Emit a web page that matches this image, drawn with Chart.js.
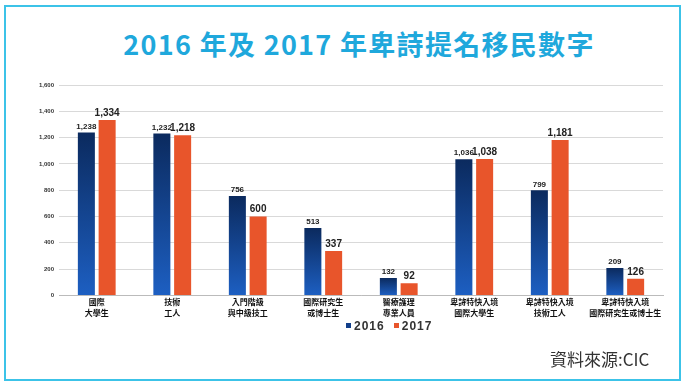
<!DOCTYPE html>
<html>
<head>
<meta charset="utf-8">
<script src="https://cdn.jsdelivr.net/npm/chart.js@4"></script>
<style>
  html, body { margin: 0; padding: 0; background: #fff; }
  #wrap { position: relative; width: 687px; height: 388px; overflow: hidden; }
  #frame { position: absolute; left: 4px; top: 5px; width: 673px; height: 372px; border: 2px solid #3cc3e8; }
  #title { position: absolute; left: 0; width: 718px; top: 24px; text-align: center;
    font-family: "Noto Sans CJK TC", "Liberation Sans", sans-serif; font-weight: bold;
    font-size: 27px; color: #1fa8dc; letter-spacing: 1.3px; }
  #legend { position: absolute; left: 346px; top: 319px; font-family: "Liberation Sans", sans-serif;
    font-weight: bold; font-size: 12px; color: #333; letter-spacing: 1px; white-space: nowrap; }
  #legend span.box { display: inline-block; width: 5px; height: 5px; margin-right: 3px; vertical-align: 2px; }
  #legend span.item { margin-right: 9px; }
  #source { position: absolute; left: 550px; top: 346px; font-family: "Noto Sans CJK TC", sans-serif;
    font-size: 17px; color: #333; }
  canvas { position: absolute; left: 0; top: 0; }
</style>
</head>
<body>
<div id="wrap">
  <div id="frame"></div>
  <div id="title">2016 年及 2017 年卑詩提名移民數字</div>
  <canvas id="chart" width="687" height="388"></canvas>
  <div id="legend"></div>
  <div id="source">資料來源:CIC</div>
</div>
<script>
// Categories (two-line labels)
const categories = [
    ['國際', '大學生'],
    ['技術', '工人'],
    ['入門階級', '與中級技工'],
    ['國際研究生', '或博士生'],
    ['醫療護理', '專業人員'],
    ['卑詩特快入境', '國際大學生'],
    ['卑詩特快入境', '技術工人'],
    ['卑詩特快入境', '國際研究生或博士生']
];
const seriesNames = ['2016', '2017'];
const values2016 = [1238, 1232, 756, 513, 132, 1036, 799, 209];
const values2017 = [1334, 1218, 600, 337, 92, 1038, 1181, 126];
const yTicks = [0, 200, 400, 600, 800, 1000, 1200, 1400, 1600];
const seriesColors = ['#123f8a', '#e8552b'];

// Blue bars fade from navy at the top to brighter blue at the bottom
function blueGradient(context) {
    const chart = context.chart;
    const area = chart.chartArea;
    if (!area || context.raw === undefined) return '#174a9c';
    const top = chart.scales.y.getPixelForValue(context.raw);
    const g = chart.ctx.createLinearGradient(0, top, 0, area.bottom);
    g.addColorStop(0, '#0b2a5e');
    g.addColorStop(1, '#1d5fc2');
    return g;
}

// Value labels above each bar (2016 small, 2017 larger)
const valueLabels = {
    id: 'valueLabels',
    afterDatasetsDraw(chart) {
        const ctx = chart.ctx;
        ctx.save();
        ctx.textAlign = 'center';
        ctx.textBaseline = 'bottom';
        ctx.fillStyle = '#222';
        chart.data.datasets.forEach((ds, i) => {
            const meta = chart.getDatasetMeta(i);
            ctx.font = i === 0 ? 'bold 8px "Liberation Sans", sans-serif' : 'bold 10px "Liberation Sans", sans-serif';
            meta.data.forEach((bar, j) => {
                ctx.fillText(ds.data[j].toLocaleString('en-US'), bar.x, bar.y - 2);
            });
        });
        ctx.restore();
    }
};

new Chart(document.getElementById('chart'), {
    type: 'bar',
    data: {
        labels: categories,
        datasets: [{
            label: seriesNames[0],
            data: values2016,
            backgroundColor: blueGradient,
            categoryPercentage: 0.55,
            barPercentage: 0.82
        }, {
            label: seriesNames[1],
            data: values2017,
            backgroundColor: seriesColors[1],
            categoryPercentage: 0.55,
            barPercentage: 0.82
        }]
    },
    options: {
        responsive: false,
        animation: false,
        layout: { padding: { left: 20, right: 24, top: 85, bottom: 69 } },
        plugins: {
            title: { display: false },
            tooltip: { enabled: false },
            legend: { display: false }
        },
        scales: {
            x: {
                grid: { display: false, drawTicks: false },
                border: { color: '#bbb' },
                ticks: {
                    color: '#111',
                    maxRotation: 0,
                    autoSkip: false,
                    padding: 1,
                    font: { size: 8, weight: 'bold', family: '"Noto Sans CJK TC", sans-serif', lineHeight: 1.35 }
                }
            },
            y: {
                min: 0,
                max: 1600,
                afterFit(scale) { scale.width = 39; },
                afterBuildTicks(scale) { scale.ticks = yTicks.map(v => ({ value: v })); },
                grid: { color: '#d9d9d9', drawTicks: false },
                border: { display: false },
                ticks: {
                    color: '#333',
                    padding: 5,
                    font: { size: 6, weight: 'bold', family: '"Liberation Sans", sans-serif' },
                    callback: v => v.toLocaleString('en-US')
                }
            }
        }
    },
    plugins: [valueLabels]
});

// Legend built from the series names
document.getElementById('legend').innerHTML = seriesNames.map((name, i) =>
    `<span class="item"><span class="box" style="background:${seriesColors[i]}"></span>${name}</span>`
).join('');
</script>
</body>
</html>
